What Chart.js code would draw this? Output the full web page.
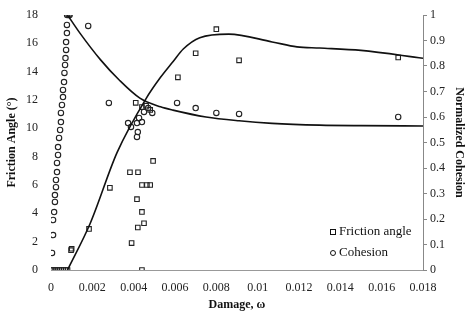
<!DOCTYPE html>
<html>
<head>
<meta charset="utf-8">
<script src="https://cdn.jsdelivr.net/npm/chart.js@4/dist/chart.umd.min.js"></script>
<style>
  html, body { margin: 0; padding: 0; background: #fff; }
  #wrap { width: 466px; height: 314px; }
</style>
</head>
<body>
<div id="wrap"><canvas id="chart"></canvas></div>
<script>
// measured friction angle (deg)
var frictionX = [0, 0.0001, 0.0002, 0.0003, 0.0004, 0.0005, 0.0006, 0.0007, 0.0008,
  0.00097, 0.0010, 0.00184, 0.00285, 0.0039, 0.0042, 0.0045, 0.0044, 0.00416,
  0.0044, 0.00464, 0.0048, 0.00382, 0.00421, 0.00494, 0.0044,
  0.0041, 0.0044, 0.0046, 0.0048, 0.00614, 0.0070, 0.0080, 0.0091, 0.0168];
var frictionY = [0, 0, 0, 0, 0, 0, 0, 0, 0,
  1.4, 1.5, 2.9, 5.8, 1.9, 3.0, 3.3, 4.1, 5.0,
  6.0, 6.0, 6.0, 6.9, 6.9, 7.7, 0,
  11.8, 11.5, 11.6, 11.3, 13.6, 15.3, 17.0, 14.8, 15.0];

// measured normalized cohesion
var cohesionX = [0.00078, 0.00085, 0.0009, 0.00077, 0.00077, 0.00073, 0.00073, 0.0007, 0.00068,
  0.00065, 0.00063, 0.00058, 0.00058, 0.00053, 0.00048, 0.00048, 0.00044, 0.00039,
  0.00034, 0.00034, 0.00029, 0.00029, 0.00024, 0.00024, 0.00019, 0.00019, 0.00015,
  0.0001, 0.0001, 0.00005, 0.0018, 0.0028, 0.00373, 0.00387, 0.00416, 0.00426,
  0.0044, 0.0042, 0.00416, 0.0049, 0.0047, 0.0045, 0.0061, 0.0070, 0.0080, 0.0091, 0.0168];
var cohesionY = [1.0, 1.0, 1.0, 0.961, 0.929, 0.894, 0.863, 0.831, 0.804,
  0.773, 0.737, 0.706, 0.678, 0.647, 0.616, 0.580, 0.549, 0.518,
  0.482, 0.451, 0.420, 0.384, 0.353, 0.325, 0.294, 0.267, 0.227,
  0.196, 0.137, 0.067, 0.957, 0.655, 0.576, 0.561, 0.576, 0.596,
  0.58, 0.541, 0.522, 0.616, 0.635, 0.62, 0.655, 0.635, 0.616, 0.612, 0.60];

// fitted curves
var fitFrictionX = [0.0008, 0.0019, 0.0032, 0.0046, 0.0053, 0.0059, 0.0064, 0.0072, 0.0086, 0.0107, 0.0119, 0.013, 0.015, 0.018];
var fitFrictionY = [0, 3.3, 8.3, 12.1, 13.6, 14.7, 15.6, 16.4, 16.65, 16.1, 15.75, 15.67, 15.5, 14.95];
var fitCohesionX = [0.0008, 0.0014, 0.0024, 0.0033, 0.0043, 0.0053, 0.0059, 0.0075, 0.0091, 0.0107, 0.013, 0.015, 0.018];
var fitCohesionY = [1.0, 0.929, 0.824, 0.745, 0.674, 0.64, 0.627, 0.6, 0.585, 0.575, 0.568, 0.566, 0.565];

var legendLabels = ['Friction angle', 'Cohesion'];

function pts(xs, ys) {
  return xs.map((x, i) => ({ x: x, y: ys[i] }));
}

var serif = "'Liberation Serif', 'DejaVu Serif', serif";

// legend drawn in the lower right corner of the plot
var cornerLegend = {
  id: 'cornerLegend',
  afterDraw(chart) {
    var ctx = chart.ctx, a = chart.chartArea;
    var mx = a.right - 90, tx = a.right - 84;
    var rows = [a.bottom - 38, a.bottom - 17];
    ctx.save();
    ctx.strokeStyle = '#111';
    ctx.lineWidth = 1;
    ctx.font = '13px ' + serif;
    ctx.fillStyle = '#111';
    ctx.textBaseline = 'middle';
    ctx.strokeRect(mx - 2.5, rows[0] - 2.5, 5, 5);
    ctx.beginPath();
    ctx.arc(mx, rows[1], 2.5, 0, Math.PI * 2);
    ctx.stroke();
    ctx.fillText(legendLabels[0], tx, rows[0]);
    ctx.fillText(legendLabels[1], tx, rows[1]);
    ctx.restore();
  }
};

var chart = new Chart('chart', {
  type: 'scatter',
  data: {
    datasets: [
      {
        label: 'Friction angle fit',
        data: pts(fitFrictionX, fitFrictionY),
        yAxisID: 'y',
        showLine: true,
        pointRadius: 0,
        borderColor: '#111',
        borderWidth: 1.6,
        cubicInterpolationMode: 'monotone'
      },
      {
        label: 'Cohesion fit',
        data: pts(fitCohesionX, fitCohesionY),
        yAxisID: 'y1',
        showLine: true,
        pointRadius: 0,
        borderColor: '#111',
        borderWidth: 1.6,
        cubicInterpolationMode: 'monotone'
      },
      {
        label: 'Friction angle',
        data: pts(frictionX, frictionY),
        yAxisID: 'y',
        pointStyle: 'rect',
        pointRadius: 3.2,
        borderColor: '#222',
        borderWidth: 1.1,
        backgroundColor: 'rgba(255,255,255,0)'
      },
      {
        label: 'Cohesion',
        data: pts(cohesionX, cohesionY),
        yAxisID: 'y1',
        pointStyle: 'circle',
        pointRadius: 2.7,
        borderColor: '#222',
        borderWidth: 1.1,
        backgroundColor: 'rgba(255,255,255,0)'
      }
    ]
  },
  options: {
    responsive: true,
    maintainAspectRatio: false,
    animation: false,
    layout: { padding: { top: 15, right: 0, left: 0, bottom: 2 } },
    plugins: {
      legend: { display: false },
      tooltip: { enabled: false }
    },
    scales: {
      x: {
        type: 'linear',
        min: 0,
        max: 0.018,
        afterFit: s => { s.height = 42; },
        grid: { display: false },
        border: { display: true, color: '#999', dash: [2, 1], width: 1 },
        ticks: {
          stepSize: 0.002,
          padding: 3,
          color: '#222',
          font: { family: serif, size: 12 },
          callback: v => String(Number(v.toFixed(3)))
        },
        title: {
          display: true,
          text: 'Damage, ω',
          color: '#111',
          padding: { top: 4, bottom: 0 },
          font: { family: serif, size: 12, weight: 'bold' }
        }
      },
      y: {
        position: 'left',
        min: 0,
        max: 18,
        afterFit: s => { s.width = 51; },
        grid: { display: false },
        border: { display: false },
        ticks: {
          stepSize: 2,
          padding: 5,
          color: '#222',
          font: { family: serif, size: 12 }
        },
        title: {
          display: true,
          text: 'Friction Angle (°)',
          color: '#111',
          padding: { top: 5, bottom: 0 },
          font: { family: serif, size: 12, weight: 'bold' }
        }
      },
      y1: {
        position: 'right',
        min: 0,
        max: 1,
        afterFit: s => { s.width = 43; },
        grid: { display: true, drawOnChartArea: false, tickLength: 4, color: '#888' },
        border: { display: true, color: '#888', dash: [2, 1], width: 1 },
        ticks: {
          stepSize: 0.1,
          padding: 3,
          color: '#222',
          font: { family: serif, size: 12 },
          callback: v => String(Number(v.toFixed(1)))
        },
        title: {
          display: true,
          text: 'Normalized Cohesion',
          color: '#111',
          padding: { top: 0 },
          font: { family: serif, size: 12, weight: 'bold' }
        }
      }
    }
  },
  plugins: [cornerLegend]
});
</script>
</body>
</html>
